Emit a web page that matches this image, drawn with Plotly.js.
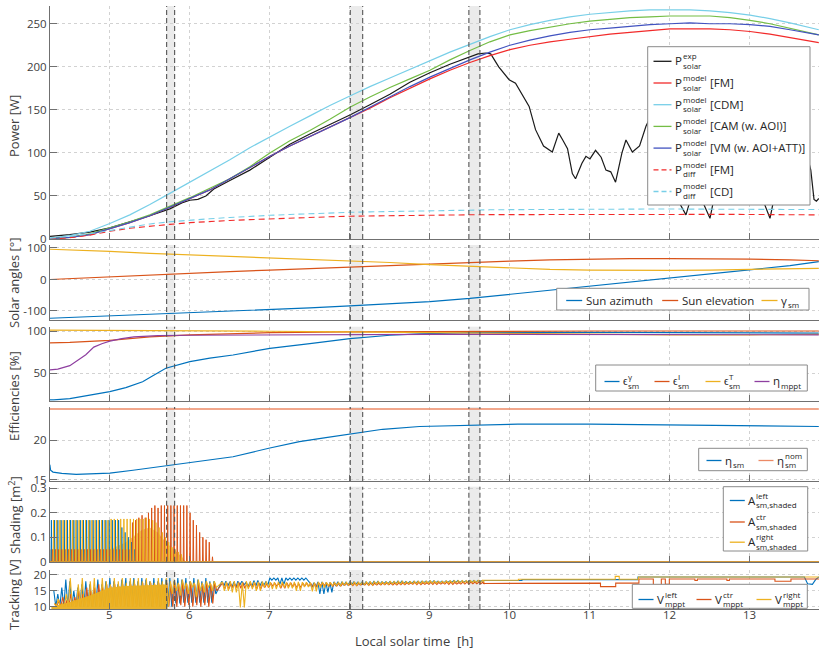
<!DOCTYPE html>
<html><head><meta charset="utf-8">
<script src="https://cdn.plot.ly/plotly-3.0.1.min.js"></script>
<style>html,body{margin:0;padding:0;background:#fff}#chart{width:830px;height:651px}</style>
</head><body><div id="chart"></div>
<script>
// ================= DATA =================
const xRange = [4.2525, 13.8625];
const xTicks = [5,6,7,8,9,10,11,12,13];
const bands = [[5.71,5.81],[8.005,8.16],[9.487,9.625]];

// Panel 1: power [W]
const tPow = [4.25,4.5,4.75,5,5.25,5.5,5.75,6,6.25,6.5,6.75,7,7.25,7.5,7.75,8,8.25,8.5,8.75,9,9.25,9.5,9.75,10,10.25,10.5,10.75,11,11.25,11.5,11.75,12,12.25,12.5,12.75,13,13.25,13.5,13.75,13.86];
const pFM  = [0.5,2,5,12,19,27,37,47,57,70,83,96,108,119,130,141,152,164,175,186,196,205,213,220,225,229,232,235,238,240,242,244,244,244,243,241,238,234,230,228];
const pCDM = [1,4,9,18,28,40,53,66,79,92,106,119,131,143,155,166,177,187,197,207,217,226,235,243,249,254,258,261,263,265,266,266,266,265,263,260,256,251,246,243];
const pCAM = [0.5,2,6,13,20,28,38,48,59,70,84,100,114,126,139,153,165,176,186,196,208,219,229,237,242,246,250,253,255,257,258,259,259,259,257,254,250,245,240,237];
const pVM  = [0.5,2,5,12,19,27,37,47,57,70,83,96,108,119,130,141,153,165,177,188,198,208,217,225,231,236,240,243,245,247,249,250,251,250,250,249,247,243,239,237];
const pDiffFM = [0,1.5,4.5,9,12.5,15,17,19,20.5,21.5,22.5,23.5,24.3,25,25.8,26.5,26.9,27.2,27.5,27.7,27.9,28.1,28.3,28.4,28.5,28.6,28.7,28.8,28.8,28.8,28.8,28.8,28.8,28.7,28.6,28.5,28.4,28.2,28,28];
const pDiffCD = [1,3,6,10,14,17.5,20,22,23.5,25,26.5,27.5,28.5,29.5,30.2,31,31.5,32,32.5,33,33.3,33.6,33.9,34.1,34.3,34.5,34.6,34.7,34.8,34.8,34.8,34.8,34.8,34.8,34.7,34.6,34.5,34.4,34.3,34.2];
const tExp = [4.25,4.5,4.75,5,5.25,5.5,5.75,5.9,6,6.1,6.2,6.3,6.5,6.75,7,7.25,7.5,7.75,8,8.25,8.5,8.75,9,9.25,9.5,9.6,9.7,9.76,9.86,9.99,10.07,10.15,10.24,10.32,10.42,10.53,10.61,10.66,10.72,10.78,10.82,10.9,10.95,11,11.07,11.14,11.2,11.26,11.32,11.4,11.45,11.53,11.62,11.7,11.8,11.9,12,12.1,12.2,12.3,12.4,12.5,12.6,12.8,13,13.1,13.25,13.35,13.5,13.65,13.72,13.76,13.8,13.83,13.86];
const pExp = [3,5,8,13,20,27,35,42,45,46,50,58,68,80,95,110,122,133,144,156,168,182,193,203,212,215,216,215,200,185,181,168,154,127,108,101,123,115,105,76,70,88,96,93,103,95,80,78,66,100,115,101,108,131,150,120,80,45,28,60,45,24,70,110,90,60,24,70,120,110,95,80,46,44,47];

// Panel 2: solar angles [deg]
const tAng = [4.25,4.5,5,5.5,6,6.5,7,7.5,8,8.5,9,9.5,10,10.5,11,11.5,12,12.5,13,13.5,13.86];
const sunAzimuth   = [-123,-120.5,-116,-112,-106,-101,-95.5,-90,-84,-77,-70,-60,-47,-35,-23,-9,4,17,30,44,56.5];
const sunElevation = [0,3,8.5,14,19.5,25,30,35,39.7,44.5,49,54,58.5,62,64.5,66,66.5,66,64.5,62,59.5];
const gammaSm      = [96,94,89,83,78,74,69.5,65,60,54,47,42,36,32,30,29,29,30,32,34,35.5];

// Panel 3: efficiencies [%]
const tEpsG = [4.25,4.3,4.5,4.66,4.8,5,5.2,5.3,5.41,5.5,5.6,5.7,6,6.25,6.54,7,7.5,8,8.5,8.87,9.5,10,11,12,13,13.86];
const epsGamma = [18.5,18.5,20,22.4,24.5,28.3,33,36,40,45,51,56,63.7,68,71.6,79.5,85,91,95,96.5,98,98.5,98.5,98,97.5,97.5];
const tEpsI = [4.25,4.5,5,5.5,6,6.5,7,8,9,10,11,12,13,13.86];
const epsI  = [86,86.5,89,93,95.5,97,98,99,99.5,100,100,100,100,100];
const tEpsT = [4.25,5,6,7,8,9,10,11,12,13,13.86];
const epsT  = [101,100.8,100.3,99.7,99,98,97,96,95.5,95.5,96];
const tMppt = [4.25,4.35,4.5,4.6,4.7,4.8,4.9,5,5.15,5.3,5.6,6,7,8,9,10,11,12,13,13.86];
const etaMppt = [54,55,59,65,72,81,85,88,91,93,94.5,95,95.5,96,96,96,96,96,96,95.5];

// Panel 4: module efficiency [%]
const tEta = [4.25,4.26,4.29,4.4,4.58,4.8,5,5.29,5.5,5.71,6,6.25,6.54,7,7.37,7.7,8,8.41,8.87,9.5,10.1,11,12,13,13.86];
const etaSm = [16.9,16.2,15.97,15.8,15.68,15.75,15.85,16.2,16.5,16.8,17.2,17.5,17.9,19.0,19.8,20.3,20.76,21.35,21.7,21.9,22.0,22.0,21.9,21.85,21.7];
const tNom = [4.25,13.86];
const etaNom = [23.9,23.9];

// Panel 5: shaded area [m2] (spike peaks)
const tShade = [4.27,4.31,4.35,4.39,4.43,4.47,4.51,4.55,4.59,4.63,4.67,4.71,4.75,4.79,4.83,4.87,4.91,4.95,4.99,5.03,5.07,5.11,5.15,5.19,5.23,5.27,5.31,5.35,5.39,5.43,5.47,5.51,5.55,5.59,5.63,5.67,5.71,5.75,5.79,5.83,5.87,5.91,5.95,5.99,6.03,6.07,6.11,6.15,6.19,6.23,6.27];
const shadeLeft  = [0.17,0.17,0.17,0.17,0.17,0.17,0.17,0.17,0.17,0.17,0.17,0.17,0.17,0.17,0.17,0.17,0.17,0.17,0.17,0.17,0.17,0.17,0.14,0.12,0.10,0.08,0.05,0,0,0,0,0,0,0,0,0,0,0,0,0,0,0,0,0,0,0,0,0,0,0,0];
const shadeCtr   = [0.05,0.05,0.05,0.05,0.05,0.05,0.05,0.05,0.05,0.05,0.05,0.05,0.05,0.05,0.05,0.05,0.05,0.05,0.05,0.05,0.05,0.05,0.05,0.05,0.05,0.16,0.17,0.18,0.19,0.18,0.20,0.22,0.23,0.22,0.23,0.23,0.23,0.23,0.23,0.23,0.23,0.23,0.23,0.20,0.17,0.15,0.12,0.10,0.09,0.08,0.02];
const shadeRight = [0.17,0.17,0.17,0.17,0.17,0.17,0.17,0.17,0.17,0.17,0.17,0.17,0.17,0.17,0.17,0.17,0.17,0.17,0.175,0.175,0.175,0.175,0.175,0.175,0.175,0.175,0.175,0.175,0.175,0.18,0.175,0.17,0.16,0.14,0.12,0.10,0.08,0.06,0.05,0.04,0.03,0,0,0,0,0,0,0,0,0,0];
const tShadeBase = [4.25,5.0,5.2,5.4,5.5,5.6,5.7,5.8,5.9,5.95];
const shadeBase  = [0.05,0.05,0.08,0.13,0.14,0.12,0.08,0.05,0.02,0];

// Panel 6: MPPT voltages [V] (noise envelopes hi/lo, then steps)
const tTrk1 = [4.30,4.35,4.40,4.45,4.50,4.55,4.60,4.65,4.70,4.75,4.80,4.85,4.90,4.95,5.00,5.05,5.10,5.15,5.20,5.25,5.30,5.35,5.40,5.45,5.50,5.55,5.60,5.65,5.70,5.75,5.80,5.85,5.90,5.95,6.00,6.05,6.10,6.15,6.20,6.25,6.30];
const vLeftHi1  = [15,14,16,18.5,18,15,16,17,18,17,16,18.5,17,18,19,18,17,18.5,19,18,19,18,19,18.5,18,19,18,19,18.5,19,18,19,18.5,19,18,19,18.5,18,19,18,18];
const vLeftLo1  = [10,10,10,10,10,10,10,10,10,10,10,10,10,10,11,10,11,12,10,12,11,10,12,11,10,11,10,11,10,10,11,11,11.3,11.3,11.3,11.3,11.3,11.3,11.3,11.3,14];
const vCtrHi1   = [11,12,13,12,14,13,15,14,16,15,16,17,16,17,16.5,17,16.5,17,16.5,17,17,16.5,17.5,17,17.5,17,17.5,17,17.5,17,17.5,17,17.5,17,17.5,17,17.5,17,17.5,17,17.5];
const vCtrLo1   = [10,10,10,10,10,10,10,10,10,10,10,10,10,10,10,10,10,10,10,10,10,10,10,10,10,10,10,10,10,10,10,10.5,10,10.5,10,10.5,10,10.5,10,11,15];
const vRightHi1 = [11,12.5,11,14,19,12,17,19,13,18,19,14,19,18,17,19,18,19,17.5,19,18.5,19,18,19,18,17.5,19,18,19,18,18.5,17.5,18.5,17.5,18,17.5,18.5,17.5,18,17.5,18];
const vRightLo1 = [10,10,10,10,10,10,10,10,10,10,10,10,10,10,10,10,10,10,10,10,10,10,10,10,10,10,10,10,10,14,15,13.5,15.5,14,16,13,15,14.5,16,15,16];
const tRightFill = [4.27,4.5,4.75,5.0,5.2,5.5,5.7,5.72];
const vRightFill = [10,11.5,13.5,16,16.5,16.8,17,9.3];
const tTrk2 = [6.4,6.5,6.6,6.7,6.8,6.9,7.0,7.1,7.2,7.3,7.4,7.5,7.6,7.7,7.8,7.9,8.0,8.1,8.2,8.3,8.4,8.5,8.6,8.7,8.8,8.9,9.0,9.1,9.2,9.3,9.4,9.5,9.6];
const vLeftHi2  = [18,17.8,18,17.6,18.2,17.8,19,19,19,19,19,17.5,17.8,17.6,17.8,17.7,17.8,17.7,17.8,17.9,17.8,17.9,18,17.9,18,18,18.1,18,18.1,18.2,18.1,18.2,18.2];
const vLeftLo2  = [16.5,16,16.8,16.2,16.5,16.8,18.3,17,18.3,18.3,18.3,16,14,14.5,16.5,16.8,17,16.9,17,17.1,17.2,17.2,17.3,17.3,17.4,17.5,17.5,17.5,17.6,17.6,17.7,17.7,17.8];
const vCtrHi2   = [17.5,17.2,17.6,17.3,17.5,17.2,17.4,17.3,17.5,17.2,17.4,17.3,17.4,17.3,17.4,17.3,17.4,17.3,17.5,17.4,17.5,17.4,17.5,17.5,17.6,17.5,17.6,17.6,17.7,17.6,17.7,17.7,17.7];
const vCtrLo2   = [15.5,16,15.8,16.2,15.5,16,16.5,15.8,16.3,16,16.5,16.2,16.6,16.4,16.5,16.7,16.6,16.8,16.7,16.8,16.9,16.8,16.9,17,16.9,17,17,17.1,17,17.1,17.1,17.2,17.2];
const vRightHi2 = [17.8,18,17.6,18,17.8,17.9,17.7,17.8,17.6,17.8,17.7,17.6,17.8,17.7,17.6,17.7,17.8,17.7,17.8,17.9,17.8,17.9,18,17.9,18,18,18.1,18,18.1,18.2,18.2,18.2,18.3];
const vRightLo2 = [15,14.5,9.8,15.5,15,16,15.5,16,15.8,15,16.2,14.8,16,16.5,16.6,16.8,16.7,16.9,16.8,17,17,17.1,17.1,17.2,17.2,17.3,17.3,17.4,17.4,17.5,17.5,17.6,17.6];
const tLeft3 = [9.65,10.15,10.15,11.6,11.6,13.68,13.72,13.78,13.82,13.86];
const vLeft3 = [18.2,18.2,18.5,18.5,19.3,19.3,17.2,17.0,18.5,19.3];
const tCtr3 = [9.65,10.15,11.12,11.12,11.31,11.31,11.6,11.6,11.78,11.78,11.88,11.88,11.93,11.93,11.98,11.98,12.3,12.3,12.33,12.33,12.7,12.7,12.73,12.73,13.3,13.3,13.5,13.5,13.86];
const vCtr3 = [17.3,17.4,17.4,16.3,16.3,17.4,17.4,18.7,18.7,16.9,16.9,18.7,18.7,17,17,18.7,18.7,18.2,18.2,18.7,18.7,18.2,18.2,18.7,18.7,18,18,18.7,18.7];
const tRight3 = [9.65,10.1,10.1,11.31,11.31,11.36,11.36,11.6,11.6,13.86];
const vRight3 = [18.3,18.3,18.6,18.6,19.5,19.5,18.6,18.6,19.3,19.3];

// ================= LAYOUT HELPERS =================
const W=830, H=651, ML=50, MR=11, MT=6, MB=42;
const PW=W-ML-MR, PH=H-MT-MB;
const px2x = p => (p-ML)/PW;
const py2y = p => (H-MB-p)/PH;
const FONT = 'Open Sans';
const axisCol='#707070', gridCol='#d2d2d2', tickTxt='#404040';
const C = {blue:'#0072BD', orange:'#D95319', yellow:'#EDB120', purple:'#8E3FA0'};
const P = {black:'#1a1a1a', red:'#f22a2a', cyan:'#78cfe8', green:'#74bd45', blue:'#4253c0'};

const panelPx = [[6,239],[245,320],[326.7,400.7],[407,481],[486.7,561.7],[570,609]];
const yRanges = [[0,270.6],[-128.6,109.5],[17.6,105.1],[14.85,24.15],[0,0.307],[9.3,21.5]];
const yTicks = [[0,50,100,150,200,250],[-100,0,100],[50,100],[15,20],[0,0.1,0.2,0.3],[10,15,20]];
const yTickText = [['0','50','100','150','200','250'],['-100','0','100'],['50','100'],['15','20'],['0','0.1','0.2','0.3'],['10','15','20']];

const ax = k => k===1?'':String(k);
const layout = {
  width:W, height:H, margin:{l:ML,r:MR,t:MT,b:MB}, showlegend:false,
  paper_bgcolor:'#fff', plot_bgcolor:'#fff',
  font:{family:FONT, size:11.5, color:tickTxt},
  shapes:[], annotations:[]
};
for (let k=1;k<=6;k++){
  const [top,bot] = panelPx[k-1];
  layout['xaxis'+ax(k)] = {
    domain:[0,1], anchor:'y'+ax(k), range:xRange, tickvals:xTicks,
    showticklabels:false, ticks:'inside', ticklen:6, tickcolor:axisCol, tickwidth:1,
    showline:true, linecolor:axisCol, linewidth:1, showgrid:true, gridcolor:gridCol, griddash:'dot', gridwidth:1,
    zeroline:false
  };
  layout['yaxis'+ax(k)] = {
    domain:[py2y(bot), py2y(top)], anchor:'x'+ax(k), range:yRanges[k-1], tickvals:yTicks[k-1], ticktext:yTickText[k-1],
    ticks:'inside', ticklen:7, tickcolor:axisCol, tickwidth:1,
    showline:true, linecolor:axisCol, linewidth:1, showgrid:true, gridcolor:gridCol, griddash:'dot', gridwidth:1,
    zeroline:false, tickfont:{family:FONT,size:11.5,color:tickTxt}
  };
}

// band shapes
for (let k=1;k<=6;k++){
  const xr = 'x'+ax(k), yr = 'y'+ax(k)+' domain';
  bands.forEach(b=>{
    layout.shapes.push({type:'rect', xref:xr, yref:yr, x0:b[0], x1:b[1], y0:0, y1:1, fillcolor:'#ebebeb', line:{width:0}, layer:'below'});
  });
}
for (let k=1;k<=6;k++){
  const xr = 'x'+ax(k), yr = 'y'+ax(k)+' domain';
  bands.forEach(b=>{
    b.forEach(xv=>layout.shapes.push({type:'line', xref:xr, yref:yr, x0:xv, x1:xv, y0:0, y1:1, line:{color:'#555', width:1.1, dash:'5px,3px'}, layer:'above'}));
  });
}

// ================= TRACES =================
const traces = [];
function line(k, x, y, color, width, dash, extra){
  traces.push(Object.assign({type:'scatter', mode:'lines', x, y, xaxis:'x'+ax(k), yaxis:'y'+ax(k),
    line:{color, width:width||1.2, dash:dash||'solid'}, hoverinfo:'skip'}, extra||{}));
}
// Panel 1
line(1, tExp, pExp, P.black, 1.2);
line(1, tPow, pFM, P.red, 1.2);
line(1, tPow, pCDM, P.cyan, 1.2);
line(1, tPow, pCAM, P.green, 1.2);
line(1, tPow, pVM, P.blue, 1.2);
line(1, tPow, pDiffFM, P.red, 1.1, '6px,4px');
line(1, tPow, pDiffCD, P.cyan, 1.1, '6px,4px');
// Panel 2
line(2, tAng, sunAzimuth, C.blue, 1.2);
line(2, tAng, sunElevation, C.orange, 1.2);
line(2, tAng, gammaSm, C.yellow, 1.2);
// Panel 3
line(3, tEpsG, epsGamma, C.blue, 1.2);
line(3, tEpsI, epsI, C.orange, 1.2);
line(3, tEpsT, epsT, C.yellow, 1.2);
line(3, tMppt, etaMppt, C.purple, 1.2);
// Panel 4
line(4, tEta, etaSm, C.blue, 1.2);
line(4, tNom, etaNom, '#ec8a66', 1.5);
// Panel 5
function spikes(times, h, off){
  const x=[xRange[0]], y=[0];
  times.forEach((t,i)=>{ const tt=t+off; x.push(tt-0.005, tt, tt+0.005); y.push(0, h[i], 0); });
  x.push(xRange[1]); y.push(0);
  return [x,y];
}
line(5, tShadeBase, shadeBase, 'rgba(0,0,0,0)', 0, 'solid', {fill:'tozeroy', fillcolor:'rgba(238,172,60,0.65)'});
let s = spikes(tShade, shadeLeft, 0);   line(5, s[0], s[1], C.blue, 1);
s = spikes(tShade, shadeCtr, 0.013);    line(5, s[0], s[1], C.orange, 1);
s = spikes(tShade, shadeRight, 0.026);  line(5, s[0], s[1], C.yellow, 1);
// Panel 6
function trk(t1,hi1,lo1,t2,hi2,lo2,t3,v3){
  const x=[], y=[];
  t1.forEach((t,i)=>{x.push(t, t+0.025); y.push(hi1[i], lo1[i]);});
  t2.forEach((t,i)=>{x.push(t, t+0.025, t+0.05, t+0.075); y.push(hi2[i], lo2[i], hi2[i], lo2[i]);});
  t3.forEach((t,i)=>{x.push(t); y.push(v3[i]);});
  return [x,y];
}
let v = trk(tTrk1,vLeftHi1,vLeftLo1,tTrk2,vLeftHi2,vLeftLo2,tLeft3,vLeft3); line(6, v[0], v[1], C.blue, 1.1);
v = trk(tTrk1,vCtrHi1,vCtrLo1,tTrk2,vCtrHi2,vCtrLo2,tCtr3,vCtr3); line(6, v[0].map(t=>t+0.012), v[1], C.orange, 1.1);
line(6, tRightFill, vRightFill, 'rgba(0,0,0,0)', 0, 'solid', {fill:'tozeroy', fillcolor:'rgba(234,176,32,0.95)'});
v = trk(tTrk1,vRightHi1,vRightLo1,tTrk2,vRightHi2,vRightLo2,tRight3,vRight3); line(6, v[0].map(t=>t+0.006), v[1], C.yellow, 1.1);

// ================= TEXT / LEGENDS =================
const ctx = document.createElement('canvas').getContext('2d');
function tw(str, size){ ctx.font = size+'px "'+FONT+'"'; return ctx.measureText(str).width; }
function ann(px, py, text, size, anchor, extra){
  layout.annotations.push(Object.assign({xref:'paper', yref:'paper', x:px2x(px), y:py2y(py), text, showarrow:false,
    xanchor:anchor||'left', yanchor:'middle', font:{family:FONT, size, color:'#262626'}, borderpad:0, borderwidth:0}, extra||{}));
}
function box(x0,y0,x1,y1){
  layout.shapes.push({type:'rect', xref:'paper', yref:'paper', x0:px2x(x0), x1:px2x(x1), y0:py2y(y1), y1:py2y(y0),
    fillcolor:'#fff', line:{color:'#8a8a8a', width:1}, layer:'above'});
}
const BS=11.5, SS=8;
function entry(xText, yRow, color, dash, len, base, sup, sub, suffix){
  layout.shapes.push({type:'line', xref:'paper', yref:'paper', x0:px2x(xText-3.5-len), x1:px2x(xText-3.5),
    y0:py2y(yRow+0.5), y1:py2y(yRow+0.5), line:{color, width:1.3, dash:dash||'solid'}, layer:'above'});
  ann(xText, yRow, base, BS);
  if (!sup && !sub) return;
  const w = tw(base, BS)+0.8; let ws=0;
  if (sup){ ann(xText+w, yRow-5, sup, SS); ws=Math.max(ws, tw(sup,SS)); }
  if (sub){ ann(xText+w, yRow+4.5, sub, SS); ws=Math.max(ws, tw(sub,SS)); }
  if (suffix) ann(xText+w+ws+3.5, yRow, suffix, BS);
}
// Legend 1 (power)
box(647.7,46.7,810,205);
const l1 = [[P.black,'solid','exp','solar',''],[P.red,'solid','model','solar','[FM]'],[P.cyan,'solid','model','solar','[CDM]'],
  [P.green,'solid','model','solar','[CAM (w. AOI)]'],[P.blue,'solid','model','solar','[VM (w. AOI+ATT)]'],
  [P.red,'5px,3px','model','diff','[FM]'],[P.cyan,'5px,3px','model','diff','[CD]']];
l1.forEach((e,i)=>entry(675, 60.8+21.7*i, e[0], e[1], 18, 'P', e[2], e[3], e[4]));
// Legend 2 (angles)
box(556.7,288.3,809,310);
entry(585.7,300,C.blue,'solid',16,'Sun azimuth');
entry(681.7,300,C.orange,'solid',16,'Sun elevation');
entry(781,300,C.yellow,'solid',16,'\u03b3','', 'sm','');
// Legend 3 (efficiencies)
box(595.7,365,807.3,391);
entry(623,381,C.blue,'solid',15,'\u03f5','\u03b3','sm','');
entry(673,381,C.orange,'solid',15,'\u03f5','I','sm','');
entry(724,381,C.yellow,'solid',15,'\u03f5','T','sm','');
entry(773,381,C.purple,'solid',15,'\u03b7','','mppt','');
// Legend 4
box(698.7,448.3,807.3,470.7);
entry(725,460,C.blue,'solid',15,'\u03b7','','sm','');
entry(777,460,'#ec8a66','solid',15,'\u03b7','nom','sm','');
// Legend 5
box(723.3,486.7,807.7,551);
entry(748.3,500,C.blue,'solid',15,'A','left','sm,shaded','');
entry(748.3,521.5,C.orange,'solid',15,'A','ctr','sm,shaded','');
entry(748.3,541.7,C.yellow,'solid',15,'A','right','sm,shaded','');
// Legend 6
box(632.3,584.3,807.3,608.3);
entry(657,599,C.blue,'solid',15,'V','left','mppt','');
entry(715,599,C.orange,'solid',15,'V','ctr','mppt','');
entry(775,599,C.yellow,'solid',15,'V','right','mppt','');

// X tick labels (bottom panel) placed on the axis scale
xTicks.forEach(t=>layout.annotations.push({xref:'x6', yref:'paper', x:t, y:py2y(614.5), text:String(t), showarrow:false,
  xanchor:'center', yanchor:'middle', font:{family:FONT,size:11.5,color:tickTxt}}));

// Axis titles
const tf = {family:FONT, size:13, color:tickTxt};
function ytitle(py, text){ layout.annotations.push({xref:'paper', yref:'paper', x:px2x(14), y:py2y(py), text, textangle:-90, showarrow:false, xanchor:'center', yanchor:'middle', font:tf}); }
ytitle(126,'Power [W]');
ytitle(283,'Solar angles [\u00b0]');
ytitle(396,'Efficiencies [%]');
ytitle(515,'Shading [m<sup>2</sup>]');
ytitle(595,'Tracking [V]');
layout.annotations.push({xref:'paper', yref:'paper', x:px2x(414), y:py2y(641), text:'Local solar time \u00a0[h]', showarrow:false, xanchor:'center', yanchor:'middle', font:tf});

Plotly.newPlot('chart', traces, layout, {staticPlot:true, displayModeBar:false});
</script>
</body></html>
